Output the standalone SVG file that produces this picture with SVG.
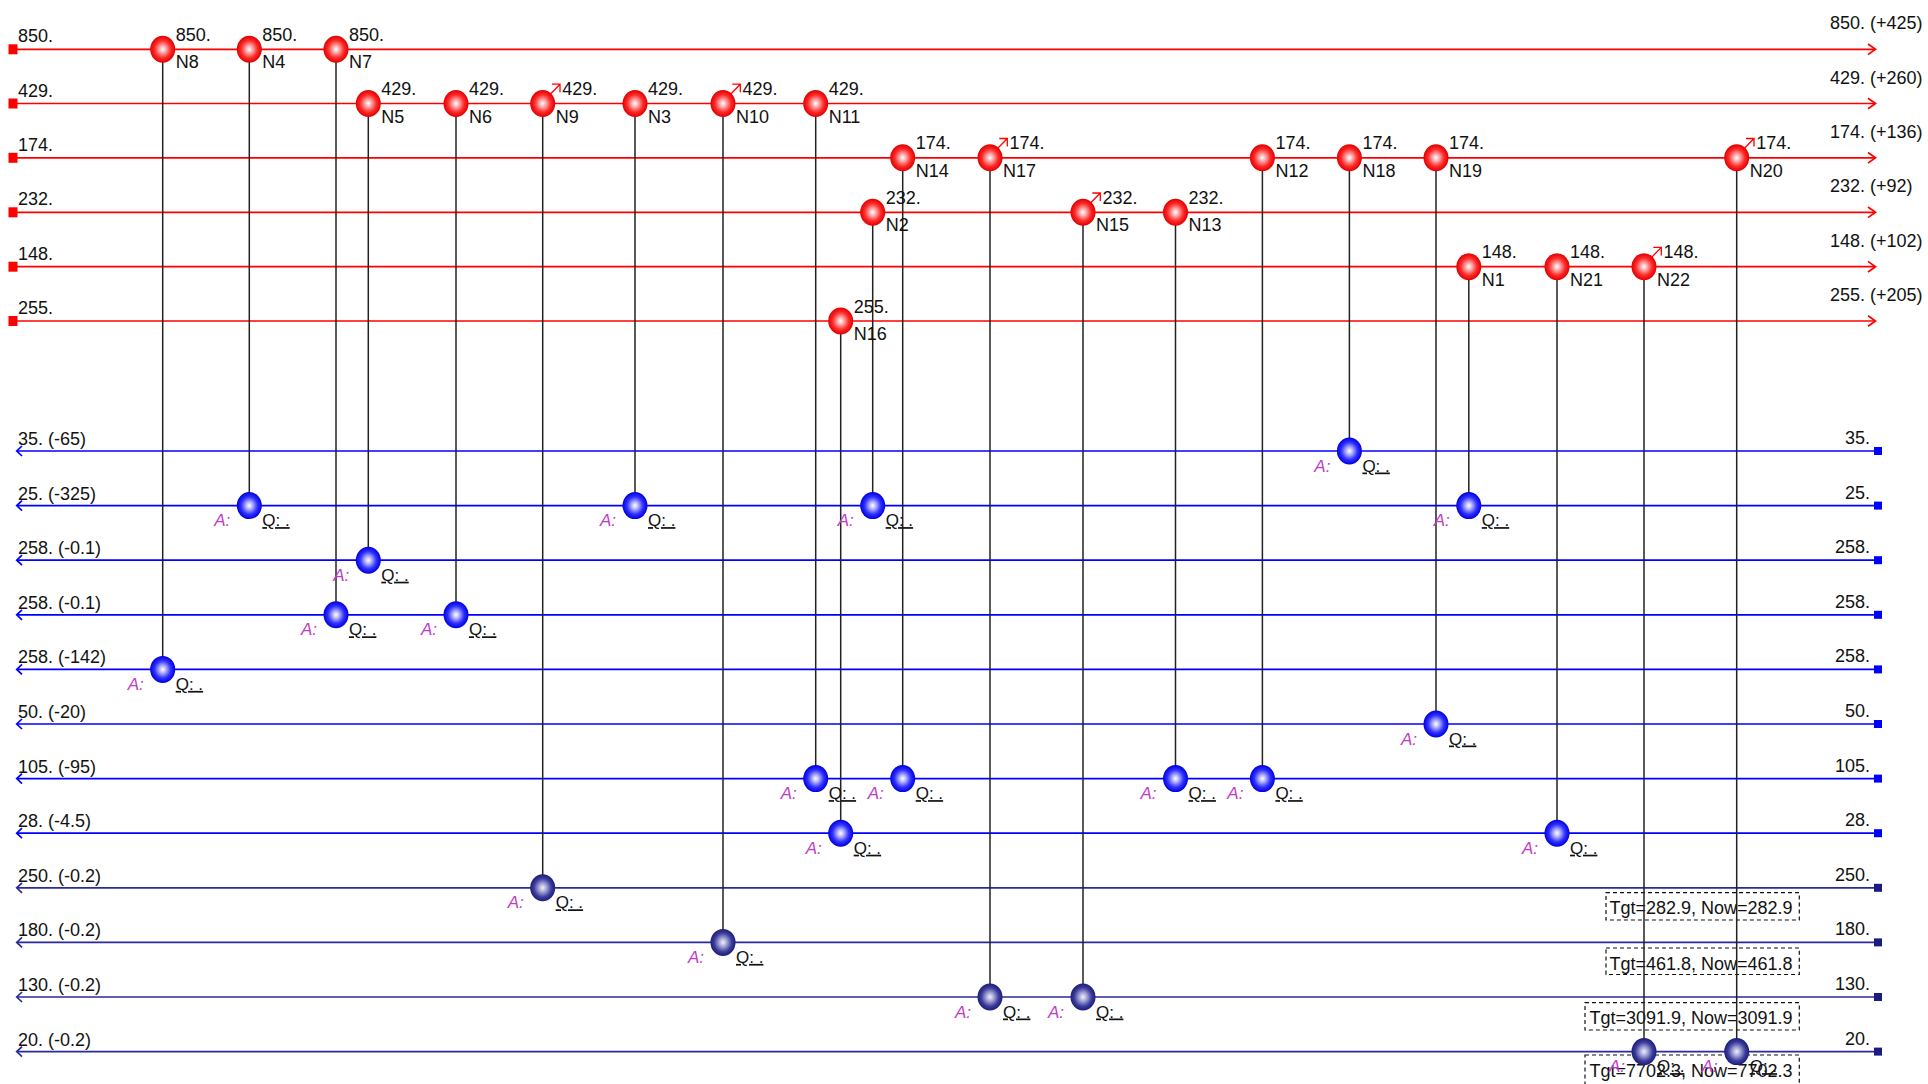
<svg xmlns="http://www.w3.org/2000/svg" xmlns:xlink="http://www.w3.org/1999/xlink" width="1928" height="1084" viewBox="0 0 1928 1084">
<defs>
<radialGradient id="gRed" cx="50%" cy="50%" r="50%">
<stop offset="0" stop-color="#ffffff"/>
<stop offset="0.25" stop-color="#ffb0b0"/>
<stop offset="0.65" stop-color="#ff2a2a"/>
<stop offset="1" stop-color="#e00000"/>
</radialGradient>
<radialGradient id="gBlue" cx="50%" cy="50%" r="50%">
<stop offset="0" stop-color="#ffffff"/>
<stop offset="0.25" stop-color="#b8b8ff"/>
<stop offset="0.65" stop-color="#3030ff"/>
<stop offset="1" stop-color="#0000e0"/>
</radialGradient>
<radialGradient id="gNavy" cx="50%" cy="50%" r="50%">
<stop offset="0" stop-color="#f0f0fa"/>
<stop offset="0.3" stop-color="#a8a8d8"/>
<stop offset="0.7" stop-color="#3c3c9c"/>
<stop offset="1" stop-color="#1c1c78"/>
</radialGradient>
<ellipse id="rb" rx="12.5" ry="13.5" fill="url(#gRed)"/>
<ellipse id="bb" rx="12.5" ry="13.5" fill="url(#gBlue)"/>
<ellipse id="nb" rx="12.5" ry="13.5" fill="url(#gNavy)"/>
</defs>
<style>
text{font-family:"Liberation Sans",Arial,sans-serif;font-size:18px;fill:#111}
.rl{stroke:#ff0000;stroke-width:1.7;fill:none}
.bl{stroke:#0000ff;stroke-width:1.7;fill:none}
.nl{stroke:#2a2a9c;stroke-width:1.7;fill:none}
.vc{stroke:#222;stroke-width:1.5}
.ar{stroke:#ff0000;stroke-width:1.3;fill:none}
.a{font-style:italic;fill:#c03cc8;font-size:17px;text-anchor:end}
.q{text-decoration:underline;font-size:17px}
.end{text-anchor:end}
.box{fill:none;stroke:#111;stroke-width:1.2;stroke-dasharray:4 3}
.mid{text-anchor:middle}
</style>
<rect width="1928" height="1084" fill="#ffffff"/>

<g id="red-lanes">
<line class="rl" x1="13" y1="49.3" x2="1875" y2="49.3"/><polyline class="rl" points="1868,44 1875.5,49.3 1868,54.6"/><rect x="8.5" y="44.3" width="9" height="10" fill="#ff0000"/>
<text x="18" y="42.3">850.</text><text x="1830" y="29.3">850. (+425)</text>
<line class="rl" x1="13" y1="103.5" x2="1875" y2="103.5"/><polyline class="rl" points="1868,98.2 1875.5,103.5 1868,108.8"/><rect x="8.5" y="98.5" width="9" height="10" fill="#ff0000"/>
<text x="18" y="96.5">429.</text><text x="1830" y="83.5">429. (+260)</text>
<line class="rl" x1="13" y1="157.8" x2="1875" y2="157.8"/><polyline class="rl" points="1868,152.5 1875.5,157.8 1868,163.1"/><rect x="8.5" y="152.8" width="9" height="10" fill="#ff0000"/>
<text x="18" y="150.8">174.</text><text x="1830" y="137.8">174. (+136)</text>
<line class="rl" x1="13" y1="212.3" x2="1875" y2="212.3"/><polyline class="rl" points="1868,207 1875.5,212.3 1868,217.6"/><rect x="8.5" y="207.3" width="9" height="10" fill="#ff0000"/>
<text x="18" y="205.3">232.</text><text x="1830" y="192.3">232. (+92)</text>
<line class="rl" x1="13" y1="266.7" x2="1875" y2="266.7"/><polyline class="rl" points="1868,261.4 1875.5,266.7 1868,272"/><rect x="8.5" y="261.7" width="9" height="10" fill="#ff0000"/>
<text x="18" y="259.7">148.</text><text x="1830" y="246.7">148. (+102)</text>
<line class="rl" x1="13" y1="321" x2="1875" y2="321"/><polyline class="rl" points="1868,315.7 1875.5,321 1868,326.3"/><rect x="8.5" y="316" width="9" height="10" fill="#ff0000"/>
<text x="18" y="314">255.</text><text x="1830" y="301">255. (+205)</text>
</g>

<g id="blue-lanes">
<line class="bl" x1="17" y1="451" x2="1878" y2="451"/><polyline class="bl" points="22,446 16.7,451 22,456"/><rect x="1874" y="447" width="8" height="8" fill="#0000ff"/>
<text x="18" y="445">35. (-65)</text><text class="end" x="1870" y="444">35.</text>
<line class="bl" x1="17" y1="505.6" x2="1878" y2="505.6"/><polyline class="bl" points="22,500.6 16.7,505.6 22,510.6"/><rect x="1874" y="501.6" width="8" height="8" fill="#0000ff"/>
<text x="18" y="499.6">25. (-325)</text><text class="end" x="1870" y="498.6">25.</text>
<line class="bl" x1="17" y1="560.2" x2="1878" y2="560.2"/><polyline class="bl" points="22,555.2 16.7,560.2 22,565.2"/><rect x="1874" y="556.2" width="8" height="8" fill="#0000ff"/>
<text x="18" y="554.2">258. (-0.1)</text><text class="end" x="1870" y="553.2">258.</text>
<line class="bl" x1="17" y1="614.8" x2="1878" y2="614.8"/><polyline class="bl" points="22,609.8 16.7,614.8 22,619.8"/><rect x="1874" y="610.8" width="8" height="8" fill="#0000ff"/>
<text x="18" y="608.8">258. (-0.1)</text><text class="end" x="1870" y="607.8">258.</text>
<line class="bl" x1="17" y1="669.4" x2="1878" y2="669.4"/><polyline class="bl" points="22,664.4 16.7,669.4 22,674.4"/><rect x="1874" y="665.4" width="8" height="8" fill="#0000ff"/>
<text x="18" y="663.4">258. (-142)</text><text class="end" x="1870" y="662.4">258.</text>
<line class="bl" x1="17" y1="724" x2="1878" y2="724"/><polyline class="bl" points="22,719 16.7,724 22,729"/><rect x="1874" y="720" width="8" height="8" fill="#0000ff"/>
<text x="18" y="718">50. (-20)</text><text class="end" x="1870" y="717">50.</text>
<line class="bl" x1="17" y1="778.6" x2="1878" y2="778.6"/><polyline class="bl" points="22,773.6 16.7,778.6 22,783.6"/><rect x="1874" y="774.6" width="8" height="8" fill="#0000ff"/>
<text x="18" y="772.6">105. (-95)</text><text class="end" x="1870" y="771.6">105.</text>
<line class="bl" x1="17" y1="833.2" x2="1878" y2="833.2"/><polyline class="bl" points="22,828.2 16.7,833.2 22,838.2"/><rect x="1874" y="829.2" width="8" height="8" fill="#0000ff"/>
<text x="18" y="827.2">28. (-4.5)</text><text class="end" x="1870" y="826.2">28.</text>
<line class="nl" x1="17" y1="887.8" x2="1878" y2="887.8"/><polyline class="nl" points="22,882.8 16.7,887.8 22,892.8"/><rect x="1874" y="883.8" width="8" height="8" fill="#1c1c80"/>
<text x="18" y="881.8">250. (-0.2)</text><text class="end" x="1870" y="880.8">250.</text>
<line class="nl" x1="17" y1="942.4" x2="1878" y2="942.4"/><polyline class="nl" points="22,937.4 16.7,942.4 22,947.4"/><rect x="1874" y="938.4" width="8" height="8" fill="#1c1c80"/>
<text x="18" y="936.4">180. (-0.2)</text><text class="end" x="1870" y="935.4">180.</text>
<line class="nl" x1="17" y1="997" x2="1878" y2="997"/><polyline class="nl" points="22,992 16.7,997 22,1002"/><rect x="1874" y="993" width="8" height="8" fill="#1c1c80"/>
<text x="18" y="991">130. (-0.2)</text><text class="end" x="1870" y="990">130.</text>
<line class="nl" x1="17" y1="1051.6" x2="1878" y2="1051.6"/><polyline class="nl" points="22,1046.6 16.7,1051.6 22,1056.6"/><rect x="1874" y="1047.6" width="8" height="8" fill="#1c1c80"/>
<text x="18" y="1045.6">20. (-0.2)</text><text class="end" x="1870" y="1044.6">20.</text>
</g>

<g id="status-boxes">
<rect class="box" x="1606" y="892.7" width="193.3" height="27.3"/><text class="mid" x="1701" y="914">Tgt=282.9, Now=282.9</text>
<rect class="box" x="1606" y="948" width="193.3" height="26.5"/><text class="mid" x="1701" y="969.5">Tgt=461.8, Now=461.8</text>
<rect class="box" x="1585" y="1002.7" width="214.3" height="27.3"/><text class="mid" x="1691" y="1024">Tgt=3091.9, Now=3091.9</text>
<rect class="box" x="1585" y="1055" width="214.3" height="32"/><text class="mid" x="1691" y="1077">Tgt=7702.3, Now=7702.3</text>
</g>

<g id="connectors">
<line class="vc" x1="162.7" y1="49.3" x2="162.7" y2="669.4"/>
<line class="vc" x1="249.3" y1="49.3" x2="249.3" y2="505.6"/>
<line class="vc" x1="336" y1="49.3" x2="336" y2="614.8"/>
<line class="vc" x1="368.3" y1="103.5" x2="368.3" y2="560.2"/>
<line class="vc" x1="456" y1="103.5" x2="456" y2="614.8"/>
<line class="vc" x1="542.7" y1="103.5" x2="542.7" y2="887.8"/>
<line class="vc" x1="635" y1="103.5" x2="635" y2="505.6"/>
<line class="vc" x1="723" y1="103.5" x2="723" y2="942.4"/>
<line class="vc" x1="815.7" y1="103.5" x2="815.7" y2="778.6"/>
<line class="vc" x1="902.7" y1="157.8" x2="902.7" y2="778.6"/>
<line class="vc" x1="990" y1="157.8" x2="990" y2="997"/>
<line class="vc" x1="872.7" y1="212.3" x2="872.7" y2="505.6"/>
<line class="vc" x1="840.7" y1="321" x2="840.7" y2="833.2"/>
<line class="vc" x1="1083" y1="212.3" x2="1083" y2="997"/>
<line class="vc" x1="1175.5" y1="212.3" x2="1175.5" y2="778.6"/>
<line class="vc" x1="1262.4" y1="157.8" x2="1262.4" y2="778.6"/>
<line class="vc" x1="1349.4" y1="157.8" x2="1349.4" y2="451"/>
<line class="vc" x1="1436" y1="157.8" x2="1436" y2="724"/>
<line class="vc" x1="1468.8" y1="266.7" x2="1468.8" y2="505.6"/>
<line class="vc" x1="1557" y1="266.7" x2="1557" y2="833.2"/>
<line class="vc" x1="1644" y1="266.7" x2="1644" y2="1051.6"/>
<line class="vc" x1="1736.7" y1="157.8" x2="1736.7" y2="1051.6"/>
</g>

<g id="N8"><use xlink:href="#rb" x="162.7" y="49.3"/><text x="175.7" y="40.8">850.</text><text x="175.7" y="68.3">N8</text></g>
<g id="N8-sink"><use xlink:href="#bb" x="162.7" y="669.4"/><text class="a" x="143.7" y="689.9">A:</text><text class="q" x="175.7" y="689.9">Q: .</text></g>

<g id="N4"><use xlink:href="#rb" x="249.3" y="49.3"/><text x="262.3" y="40.8">850.</text><text x="262.3" y="68.3">N4</text></g>
<g id="N4-sink"><use xlink:href="#bb" x="249.3" y="505.6"/><text class="a" x="230.3" y="526.1">A:</text><text class="q" x="262.3" y="526.1">Q: .</text></g>

<g id="N7"><use xlink:href="#rb" x="336" y="49.3"/><text x="349" y="40.8">850.</text><text x="349" y="68.3">N7</text></g>
<g id="N7-sink"><use xlink:href="#bb" x="336" y="614.8"/><text class="a" x="317" y="635.3">A:</text><text class="q" x="349" y="635.3">Q: .</text></g>

<g id="N5"><use xlink:href="#rb" x="368.3" y="103.5"/><text x="381.3" y="95">429.</text><text x="381.3" y="122.5">N5</text></g>
<g id="N5-sink"><use xlink:href="#bb" x="368.3" y="560.2"/><text class="a" x="349.3" y="580.7">A:</text><text class="q" x="381.3" y="580.7">Q: .</text></g>

<g id="N6"><use xlink:href="#rb" x="456" y="103.5"/><text x="469" y="95">429.</text><text x="469" y="122.5">N6</text></g>
<g id="N6-sink"><use xlink:href="#bb" x="456" y="614.8"/><text class="a" x="437" y="635.3">A:</text><text class="q" x="469" y="635.3">Q: .</text></g>

<g id="N9"><use xlink:href="#rb" x="542.7" y="103.5"/><path class="ar" d="M549.3,95.2 L560,84.2 M552,84.2 H560 V92.2"/><text x="562.2" y="95">429.</text><text x="555.7" y="122.5">N9</text></g>
<g id="N9-sink"><use xlink:href="#nb" x="542.7" y="887.8"/><text class="a" x="523.7" y="908.3">A:</text><text class="q" x="555.7" y="908.3">Q: .</text></g>

<g id="N3"><use xlink:href="#rb" x="635" y="103.5"/><text x="648" y="95">429.</text><text x="648" y="122.5">N3</text></g>
<g id="N3-sink"><use xlink:href="#bb" x="635" y="505.6"/><text class="a" x="616" y="526.1">A:</text><text class="q" x="648" y="526.1">Q: .</text></g>

<g id="N10"><use xlink:href="#rb" x="723" y="103.5"/><path class="ar" d="M729.6,95.2 L740.3,84.2 M732.3,84.2 H740.3 V92.2"/><text x="742.5" y="95">429.</text><text x="736" y="122.5">N10</text></g>
<g id="N10-sink"><use xlink:href="#nb" x="723" y="942.4"/><text class="a" x="704" y="962.9">A:</text><text class="q" x="736" y="962.9">Q: .</text></g>

<g id="N11"><use xlink:href="#rb" x="815.7" y="103.5"/><text x="828.7" y="95">429.</text><text x="828.7" y="122.5">N11</text></g>
<g id="N11-sink"><use xlink:href="#bb" x="815.7" y="778.6"/><text class="a" x="796.7" y="799.1">A:</text><text class="q" x="828.7" y="799.1">Q: .</text></g>

<g id="N14"><use xlink:href="#rb" x="902.7" y="157.8"/><text x="915.7" y="149.3">174.</text><text x="915.7" y="176.8">N14</text></g>
<g id="N14-sink"><use xlink:href="#bb" x="902.7" y="778.6"/><text class="a" x="883.7" y="799.1">A:</text><text class="q" x="915.7" y="799.1">Q: .</text></g>

<g id="N17"><use xlink:href="#rb" x="990" y="157.8"/><path class="ar" d="M996.6,149.5 L1007.3,138.5 M999.3,138.5 H1007.3 V146.5"/><text x="1009.5" y="149.3">174.</text><text x="1003" y="176.8">N17</text></g>
<g id="N17-sink"><use xlink:href="#nb" x="990" y="997"/><text class="a" x="971" y="1017.5">A:</text><text class="q" x="1003" y="1017.5">Q: .</text></g>

<g id="N2"><use xlink:href="#rb" x="872.7" y="212.3"/><text x="885.7" y="203.8">232.</text><text x="885.7" y="231.3">N2</text></g>
<g id="N2-sink"><use xlink:href="#bb" x="872.7" y="505.6"/><text class="a" x="853.7" y="526.1">A:</text><text class="q" x="885.7" y="526.1">Q: .</text></g>

<g id="N16"><use xlink:href="#rb" x="840.7" y="321"/><text x="853.7" y="312.5">255.</text><text x="853.7" y="340">N16</text></g>
<g id="N16-sink"><use xlink:href="#bb" x="840.7" y="833.2"/><text class="a" x="821.7" y="853.7">A:</text><text class="q" x="853.7" y="853.7">Q: .</text></g>

<g id="N15"><use xlink:href="#rb" x="1083" y="212.3"/><path class="ar" d="M1089.6,204 L1100.3,193 M1092.3,193 H1100.3 V201"/><text x="1102.5" y="203.8">232.</text><text x="1096" y="231.3">N15</text></g>
<g id="N15-sink"><use xlink:href="#nb" x="1083" y="997"/><text class="a" x="1064" y="1017.5">A:</text><text class="q" x="1096" y="1017.5">Q: .</text></g>

<g id="N13"><use xlink:href="#rb" x="1175.5" y="212.3"/><text x="1188.5" y="203.8">232.</text><text x="1188.5" y="231.3">N13</text></g>
<g id="N13-sink"><use xlink:href="#bb" x="1175.5" y="778.6"/><text class="a" x="1156.5" y="799.1">A:</text><text class="q" x="1188.5" y="799.1">Q: .</text></g>

<g id="N12"><use xlink:href="#rb" x="1262.4" y="157.8"/><text x="1275.4" y="149.3">174.</text><text x="1275.4" y="176.8">N12</text></g>
<g id="N12-sink"><use xlink:href="#bb" x="1262.4" y="778.6"/><text class="a" x="1243.4" y="799.1">A:</text><text class="q" x="1275.4" y="799.1">Q: .</text></g>

<g id="N18"><use xlink:href="#rb" x="1349.4" y="157.8"/><text x="1362.4" y="149.3">174.</text><text x="1362.4" y="176.8">N18</text></g>
<g id="N18-sink"><use xlink:href="#bb" x="1349.4" y="451"/><text class="a" x="1330.4" y="471.5">A:</text><text class="q" x="1362.4" y="471.5">Q: .</text></g>

<g id="N19"><use xlink:href="#rb" x="1436" y="157.8"/><text x="1449" y="149.3">174.</text><text x="1449" y="176.8">N19</text></g>
<g id="N19-sink"><use xlink:href="#bb" x="1436" y="724"/><text class="a" x="1417" y="744.5">A:</text><text class="q" x="1449" y="744.5">Q: .</text></g>

<g id="N1"><use xlink:href="#rb" x="1468.8" y="266.7"/><text x="1481.8" y="258.2">148.</text><text x="1481.8" y="285.7">N1</text></g>
<g id="N1-sink"><use xlink:href="#bb" x="1468.8" y="505.6"/><text class="a" x="1449.8" y="526.1">A:</text><text class="q" x="1481.8" y="526.1">Q: .</text></g>

<g id="N21"><use xlink:href="#rb" x="1557" y="266.7"/><text x="1570" y="258.2">148.</text><text x="1570" y="285.7">N21</text></g>
<g id="N21-sink"><use xlink:href="#bb" x="1557" y="833.2"/><text class="a" x="1538" y="853.7">A:</text><text class="q" x="1570" y="853.7">Q: .</text></g>

<g id="N22"><use xlink:href="#rb" x="1644" y="266.7"/><path class="ar" d="M1650.6,258.4 L1661.3,247.4 M1653.3,247.4 H1661.3 V255.4"/><text x="1663.5" y="258.2">148.</text><text x="1657" y="285.7">N22</text></g>
<g id="N22-sink"><use xlink:href="#nb" x="1644" y="1051.6"/><text class="a" x="1625" y="1072.1">A:</text><text class="q" x="1657" y="1072.1">Q: .</text></g>

<g id="N20"><use xlink:href="#rb" x="1736.7" y="157.8"/><path class="ar" d="M1743.3,149.5 L1754,138.5 M1746,138.5 H1754 V146.5"/><text x="1756.2" y="149.3">174.</text><text x="1749.7" y="176.8">N20</text></g>
<g id="N20-sink"><use xlink:href="#nb" x="1736.7" y="1051.6"/><text class="a" x="1717.7" y="1072.1">A:</text><text class="q" x="1749.7" y="1072.1">Q: .</text></g>
</svg>
